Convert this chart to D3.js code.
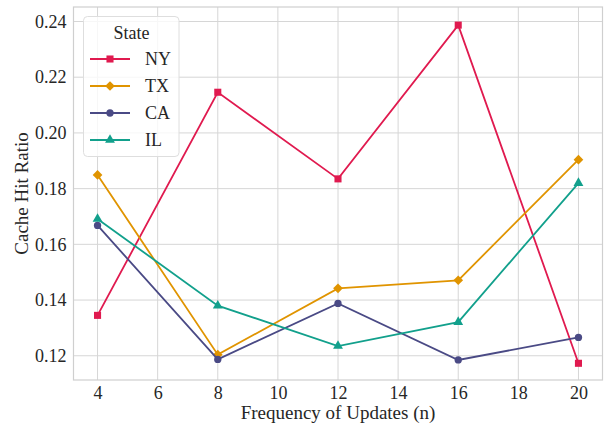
<!DOCTYPE html>
<html>
<head>
<meta charset="utf-8">
<script src="https://cdn.jsdelivr.net/npm/d3@7"></script>
<style>
  html, body { margin: 0; padding: 0; background: #fff; font-family: 'Liberation Serif', serif; }
  svg { display: block; }
</style>
</head>
<body>
<svg id="chart" width="605" height="425"></svg>
<script>
const xValues = [4, 8, 12, 16, 20];
const seriesNames = ["NY", "TX", "CA", "IL"];
const nyValues = [0.1345, 0.2146, 0.1835, 0.2387, 0.1173];
const txValues = [0.1849, 0.1204, 0.1442, 0.1471, 0.1904];
const caValues = [0.1668, 0.1187, 0.1388, 0.1185, 0.1266];
const ilValues = [0.1691, 0.1380, 0.1235, 0.1321, 0.1820];
const xTicks = [4, 6, 8, 10, 12, 14, 16, 18, 20];
const yTicks = [0.12, 0.14, 0.16, 0.18, 0.20, 0.22, 0.24];
const xLabel = "Frequency of Updates (n)";
const yLabel = "Cache Hit Ratio";
const legendTitle = "State";

const FONT = "'Liberation Serif', 'Times New Roman', serif";
const colors = { NY: "#e01a4f", TX: "#e09400", CA: "#4a4a85", IL: "#12a08c" };
const symbols = { NY: d3.symbolSquare, TX: d3.symbolDiamond2, CA: d3.symbolCircle, IL: d3.symbolTriangle };
const symSize = { NY: 50, TX: 60, CA: 42, IL: 42 };
const series = [
  { name: "NY", values: nyValues },
  { name: "TX", values: txValues },
  { name: "CA", values: caValues },
  { name: "IL", values: ilValues }
];

function styleText(sel, size) {
  return sel.style("font-family", FONT).style("font-size", (size || 18) + "px").style("fill", "#262626");
}

const svg = d3.select("#chart");
const L = 73.5, R = 602.5, T = 7, B = 380;
const x = d3.scaleLinear().domain([3.2, 20.8]).range([L, R]);
const y = d3.scaleLinear().domain([0.1113, 0.2452]).range([B, T]);

// grid
const g = svg.append("g");
g.selectAll(".gx").data(xTicks).enter().append("line")
  .attr("x1", d => x(d)).attr("x2", d => x(d)).attr("y1", T).attr("y2", B)
  .attr("stroke", "#d6d6d6").attr("stroke-width", 1);
g.selectAll(".gy").data(yTicks).enter().append("line")
  .attr("y1", d => y(d)).attr("y2", d => y(d)).attr("x1", L).attr("x2", R)
  .attr("stroke", "#d6d6d6").attr("stroke-width", 1);
// spines
svg.append("rect").attr("x", L).attr("y", T).attr("width", R - L).attr("height", B - T)
  .attr("fill", "none").attr("stroke", "#cfcfcf").attr("stroke-width", 1.2);

// axes (tick labels only)
const xAxis = svg.append("g").attr("transform", `translate(0,${B})`)
  .call(d3.axisBottom(x).tickValues(xTicks).tickSize(0).tickPadding(6).tickFormat(d3.format("d")));
const yAxis = svg.append("g").attr("transform", `translate(${L},0)`)
  .call(d3.axisLeft(y).tickValues(yTicks).tickSize(0).tickPadding(7).tickFormat(d3.format(".2f")));
[xAxis, yAxis].forEach(a => {
  a.attr("font-family", null).attr("font-size", null);
  a.select(".domain").remove();
  styleText(a.selectAll("text"));
});

styleText(svg.append("text").attr("x", (L + R) / 2).attr("y", 419).attr("text-anchor", "middle").text(xLabel), 19);
styleText(svg.append("text").attr("transform", `translate(28,${(T + B) / 2}) rotate(-90)`)
  .attr("text-anchor", "middle").text(yLabel), 19);

// lines
const line = d3.line().x((d, i) => x(xValues[i])).y(d => y(d));
series.forEach(s => {
  svg.append("path").datum(s.values).attr("d", line)
    .attr("fill", "none").attr("stroke", colors[s.name]).attr("stroke-width", 1.8);
  svg.selectAll(null).data(s.values).enter().append("path")
    .attr("d", d3.symbol().type(symbols[s.name]).size(symSize[s.name]))
    .attr("transform", (d, i) => `translate(${x(xValues[i])},${y(d)})`)
    .attr("fill", colors[s.name]);
});

// legend
const lg = svg.append("g");
lg.append("rect").attr("x", 83.5).attr("y", 16.5).attr("width", 95.5).attr("height", 140)
  .attr("rx", 4).attr("fill", "#fff").attr("fill-opacity", 0.8).attr("stroke", "#dedede");
styleText(lg.append("text").attr("x", 131.5).attr("y", 39).attr("text-anchor", "middle").text(legendTitle));
seriesNames.forEach((n, i) => {
  const yy = 59 + i * 27;
  lg.append("line").attr("x1", 90).attr("x2", 130).attr("y1", yy).attr("y2", yy)
    .attr("stroke", colors[n]).attr("stroke-width", 1.8);
  lg.append("path").attr("d", d3.symbol().type(symbols[n]).size(symSize[n]))
    .attr("transform", `translate(110,${yy})`).attr("fill", colors[n]);
  styleText(lg.append("text").attr("x", 145).attr("y", yy + 6).text(n));
});
</script>
</body>
</html>
